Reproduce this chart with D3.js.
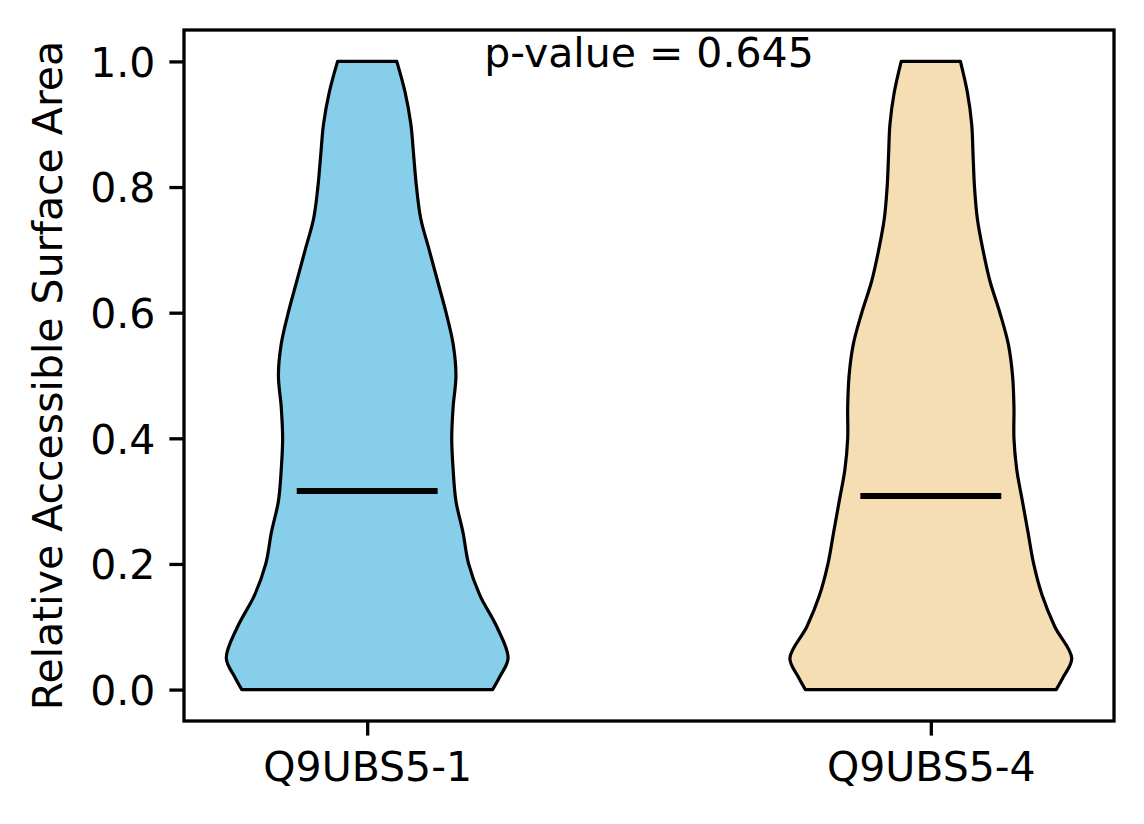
<!DOCTYPE html>
<html>
<head>
<meta charset="utf-8">
<script src="https://cdn.jsdelivr.net/npm/d3@7"></script>
<style>
  body { margin: 0; background: #fff; }
  text { font-family: "DejaVu Sans", sans-serif; }
</style>
</head>
<body>
<script>
// groups and their summary values
var groups = ["Q9UBS5-1", "Q9UBS5-4"];
var colors = ["#87CEEB", "#F5DEB3"];
var medians = [0.316, 0.308];
var pValue = "0.645";

// y grid where the violin widths were read (relative density, max = 1)
var ySupport = [0, 0.02, 0.05, 0.1, 0.15, 0.2, 0.25, 0.3, 0.35, 0.4, 0.45, 0.5, 0.55, 0.6, 0.65, 0.7, 0.75, 0.8, 0.85, 0.9, 0.95, 1.0];
var density1 = [0.89, 0.94, 1.00, 0.92, 0.80, 0.72, 0.68, 0.63, 0.61, 0.60, 0.61, 0.63, 0.61, 0.56, 0.50, 0.44, 0.38, 0.35, 0.33, 0.31, 0.27, 0.21];
var density2 = [0.89, 0.94, 1.00, 0.88, 0.79, 0.73, 0.69, 0.65, 0.61, 0.59, 0.59, 0.58, 0.55, 0.49, 0.42, 0.37, 0.33, 0.31, 0.30, 0.29, 0.26, 0.21];
var densities = [density1, density2];

var yTicks = [0, 0.2, 0.4, 0.6, 0.8, 1.0];

var width = 1144, height = 824;
var margin = {top: 30, right: 30, bottom: 103, left: 184};
var fontSize = 41;

var svg = d3.select("body").append("svg")
  .attr("width", width)
  .attr("height", height);

// positions 1 and 2, violin width 0.5, 5% margins
var x = d3.scaleLinear()
  .domain([0.675, 2.325])
  .range([margin.left, width - margin.right]);
var y = d3.scaleLinear()
  .domain([-0.05, 1.05])
  .range([height - margin.bottom, margin.top]);

var halfWidth = 0.25;

groups.forEach(function(g, i) {
  var pos = i + 1;
  var pts = ySupport.map(function(v, j) { return {v: v, d: densities[i][j]}; });
  var area = d3.area()
    .x0(function(p) { return x(pos - p.d * halfWidth); })
    .x1(function(p) { return x(pos + p.d * halfWidth); })
    .y(function(p) { return y(p.v); })
    .curve(d3.curveCatmullRom.alpha(0.5));
  svg.append("path")
    .datum(pts)
    .attr("d", area)
    .attr("fill", colors[i])
    .attr("stroke", "#000")
    .attr("stroke-width", 3.2)
    .attr("stroke-linejoin", "round");
  svg.append("line")
    .attr("x1", x(pos - halfWidth / 2))
    .attr("x2", x(pos + halfWidth / 2))
    .attr("y1", y(medians[i]))
    .attr("y2", y(medians[i]))
    .attr("stroke", "#000")
    .attr("stroke-width", 6);
});

// axes
var yAxis = d3.axisLeft(y)
  .tickValues(yTicks)
  .tickFormat(d3.format(".1f"))
  .tickSize(14.6)
  .tickPadding(14);
var xAxis = d3.axisBottom(x)
  .tickValues([1, 2])
  .tickFormat(function(d) { return groups[d - 1]; })
  .tickSize(14.6)
  .tickPadding(14);

var gy = svg.append("g")
  .attr("transform", "translate(" + margin.left + ",0)")
  .call(yAxis);
var gx = svg.append("g")
  .attr("transform", "translate(0," + (height - margin.bottom) + ")")
  .call(xAxis);

[gx, gy].forEach(function(g) {
  g.select(".domain").remove();
  g.selectAll(".tick line").attr("stroke", "#000").attr("stroke-width", 3.3);
  g.selectAll(".tick text")
    .attr("fill", "#000")
    .style("font-size", fontSize + "px")
    .style("font-family", "DejaVu Sans");
});
gy.selectAll(".tick text").attr("dy", "0.36em");
gx.selectAll(".tick text").attr("dy", "0.76em");

// frame
svg.append("rect")
  .attr("x", margin.left)
  .attr("y", margin.top)
  .attr("width", width - margin.left - margin.right)
  .attr("height", height - margin.top - margin.bottom)
  .attr("fill", "none")
  .attr("stroke", "#000")
  .attr("stroke-width", 3.3);

// y label
svg.append("text")
  .attr("transform", "translate(62," + (margin.top + (height - margin.top - margin.bottom) / 2) + ") rotate(-90)")
  .attr("text-anchor", "middle")
  .style("font-size", fontSize + "px")
  .text("Relative Accessible Surface Area");

// p-value annotation
svg.append("text")
  .attr("x", x(1.5))
  .attr("y", y(1.0) + 6)
  .attr("text-anchor", "middle")
  .style("font-size", fontSize + "px")
  .text("p-value = " + pValue);
</script>
</body>
</html>
